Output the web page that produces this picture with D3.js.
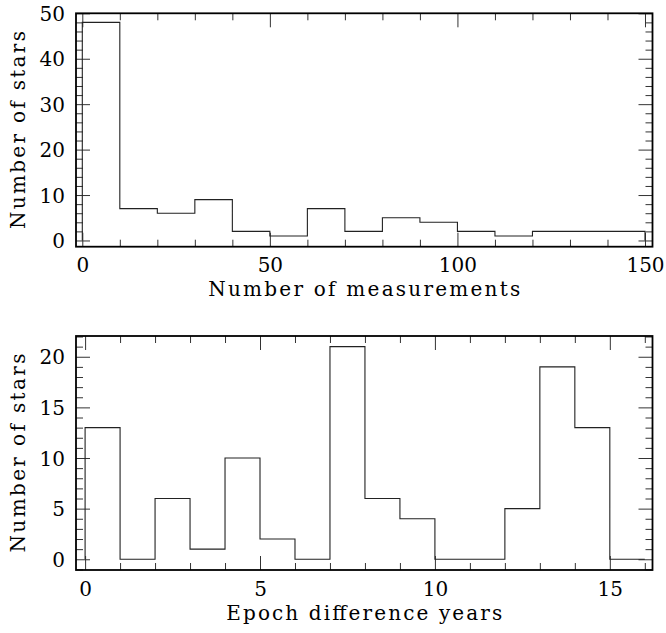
<!DOCTYPE html>
<html>
<head>
<meta charset="utf-8">
<script src="https://cdn.jsdelivr.net/npm/d3@7"></script>
<style>
  html, body { margin: 0; padding: 0; background: #fff; }
  svg { display: block; }
  text { font-family: "DejaVu Serif", "Liberation Serif", serif; fill: #000; }
</style>
</head>
<body>
<svg id="chart" width="666" height="633"></svg>
<script>
// ---------- data ----------
const measEdges  = [0, 10, 20, 30, 40, 50, 60, 70, 80, 90, 100, 110, 120, 130, 140, 150];
const measCounts = [48, 7, 6, 9, 2, 1, 7, 2, 5, 4, 2, 1, 2, 2, 2];
const measXMajor = [0, 50, 100, 150];
const measYMajor = [0, 10, 20, 30, 40, 50];

const epochEdges  = [0, 1, 2, 3, 4, 5, 6, 7, 8, 9, 10, 11, 12, 13, 14, 15, 16];
const epochCounts = [13, 0, 6, 1, 10, 2, 0, 21, 6, 4, 0, 0, 5, 19, 13, 0];
const epochXMajor = [0, 5, 10, 15];
const epochYMajor = [0, 5, 10, 15, 20];

const svg = d3.select("#chart");

function panel(opt) {
  const g = svg.append("g");
  const x = d3.scaleLinear().domain(opt.xDomain).range([opt.left, opt.right]);
  const y = d3.scaleLinear().domain(opt.yDomain).range([opt.bottom, opt.top]);

  const xMinor = d3.range(Math.ceil(opt.xDomain[0] / opt.xMinorStep) * opt.xMinorStep, opt.xDomain[1] + 1e-9, opt.xMinorStep)
      .filter(v => !opt.xMajor.some(m => Math.abs(m - v) < 1e-9));
  const yMinor = d3.range(Math.ceil(opt.yDomain[0] / opt.yMinorStep) * opt.yMinorStep, opt.yDomain[1] + 1e-9, opt.yMinorStep)
      .filter(v => !opt.yMajor.some(m => Math.abs(m - v) < 1e-9));

  const MAJ = 14, MIN = 7;

  function styleAxis(sel) {
    sel.select(".domain").remove();
    sel.selectAll(".tick line").attr("stroke", "#333").attr("stroke-width", 1);
  }

  // bottom axis major with labels
  const bx = g.append("g").attr("transform", `translate(0,${opt.bottom})`)
    .call(d3.axisBottom(x).tickValues(opt.xMajor).tickSize(-MAJ).tickFormat(d3.format("d")));
  styleAxis(bx);
  bx.selectAll(".tick text").attr("y", opt.xLabelOffset).attr("dy", null)
    .attr("font-size", opt.fs).attr("font-family", "DejaVu Serif");
  g.append("g").attr("transform", `translate(0,${opt.bottom})`)
    .call(d3.axisBottom(x).tickValues(xMinor).tickSize(-MIN).tickFormat(""))
    .call(styleAxis);
  // top axis
  g.append("g").attr("transform", `translate(0,${opt.top})`)
    .call(d3.axisTop(x).tickValues(opt.xMajor).tickSize(-MAJ).tickFormat(""))
    .call(styleAxis);
  g.append("g").attr("transform", `translate(0,${opt.top})`)
    .call(d3.axisTop(x).tickValues(xMinor).tickSize(-MIN).tickFormat(""))
    .call(styleAxis);
  // left axis with labels
  const ly = g.append("g").attr("transform", `translate(${opt.left},0)`)
    .call(d3.axisLeft(y).tickValues(opt.yMajor).tickSize(-MAJ).tickFormat(d3.format("d")));
  styleAxis(ly);
  ly.selectAll(".tick text").attr("x", -11).attr("dy", "0.36em")
    .attr("font-size", opt.fs).attr("font-family", "DejaVu Serif");
  g.append("g").attr("transform", `translate(${opt.left},0)`)
    .call(d3.axisLeft(y).tickValues(yMinor).tickSize(-MIN).tickFormat(""))
    .call(styleAxis);
  // right axis
  g.append("g").attr("transform", `translate(${opt.right},0)`)
    .call(d3.axisRight(y).tickValues(opt.yMajor).tickSize(-MAJ).tickFormat(""))
    .call(styleAxis);
  g.append("g").attr("transform", `translate(${opt.right},0)`)
    .call(d3.axisRight(y).tickValues(yMinor).tickSize(-MIN).tickFormat(""))
    .call(styleAxis);

  // histogram step line
  const pts = [[opt.edges[0], 0]];
  opt.counts.forEach((c, i) => {
    pts.push([opt.edges[i], c]);
    pts.push([opt.edges[i + 1], c]);
  });
  pts.push([opt.edges[opt.edges.length - 1], 0]);
  g.append("path")
    .attr("d", d3.line().x(d => x(d[0])).y(d => y(d[1]))(pts))
    .attr("fill", "none").attr("stroke", "#222").attr("stroke-width", 1.1);

  // frame
  g.append("rect")
    .attr("x", opt.left).attr("y", opt.top)
    .attr("width", opt.right - opt.left).attr("height", opt.bottom - opt.top)
    .attr("fill", "none").attr("stroke", "#000").attr("stroke-width", 1.8);

  // axis titles
  g.append("text")
    .attr("x", (opt.left + opt.right) / 2).attr("y", opt.bottom + opt.xTitleOffset)
    .attr("text-anchor", "middle").attr("font-size", opt.tfs)
    .attr("textLength", opt.xTitleLen).attr("lengthAdjust", "spacing")
    .text(opt.xTitle);
  g.append("text")
    .attr("transform", `translate(${opt.yTitleX},${(opt.top + opt.bottom) / 2}) rotate(-90)`)
    .attr("text-anchor", "middle").attr("font-size", opt.tfs)
    .attr("textLength", opt.yTitleLen).attr("lengthAdjust", "spacing")
    .text(opt.yTitle);
}

panel({
  left: 76, right: 652.5, top: 13.3, bottom: 246.7,
  xDomain: [-1.68, 152.0], yDomain: [-1.37, 50],
  xMajor: measXMajor, xMinorStep: 10, yMajor: measYMajor, yMinorStep: 2,
  edges: measEdges, counts: measCounts,
  fs: 20, tfs: 20, xLabelOffset: 25, xTitleOffset: 49, xTitleLen: 312,
  yTitleX: 25, yTitleLen: 198,
  xTitle: "Number of measurements", yTitle: "Number of stars"
});

panel({
  left: 76, right: 652.5, top: 336, bottom: 570,
  xDomain: [-0.26, 16.22], yDomain: [-1.06, 22.05],
  xMajor: epochXMajor, xMinorStep: 1, yMajor: epochYMajor, yMinorStep: 1,
  edges: epochEdges, counts: epochCounts,
  fs: 20, tfs: 20, xLabelOffset: 26, xTitleOffset: 50, xTitleLen: 276,
  yTitleX: 25, yTitleLen: 199,
  xTitle: "Epoch difference years", yTitle: "Number of stars"
});
</script>
</body>
</html>
